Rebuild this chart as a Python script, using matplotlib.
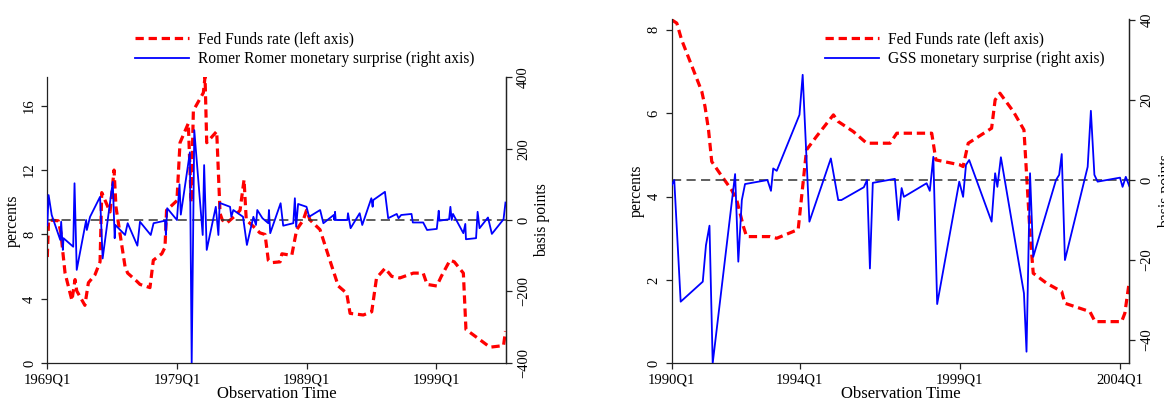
import matplotlib
matplotlib.use("Agg")
import matplotlib.pyplot as plt
import numpy as np

plt.rcParams['font.family'] = ['Liberation Serif', 'DejaVu Serif']

# ---------------- Left panel data (Romer & Romer sample) ----------------
rr_ff_time = [1969.0, 1969.1, 1969.85, 1970.05, 1970.2, 1970.37, 1970.9, 1971.14, 1971.27,
              1971.9, 1972.17, 1972.68, 1973.07, 1973.2, 1973.84, 1974.15, 1974.3, 1974.6,
              1975.0, 1975.2, 1975.9, 1976.15, 1976.92, 1977.18, 1977.83, 1978.08, 1978.2,
              1979.0, 1979.24, 1979.88, 1980.1, 1980.27, 1981.04, 1981.17, 1981.3, 1982.07,
              1982.33, 1982.5, 1982.84, 1983.4, 1983.87, 1984.18, 1984.35, 1984.9, 1985.4,
              1985.8, 1986.05, 1986.3, 1986.96, 1987.1, 1987.86, 1988.24, 1988.75, 1989.0,
              1989.27, 1990.04, 1990.8, 1991.45, 1992.1, 1992.36, 1993.38, 1994.03, 1994.4,
              1995.06, 1995.57, 1996.2, 1997.24, 1998.0, 1998.3, 1999.05, 1999.4, 2000.07,
              2000.4, 2001.1, 2001.3, 2002.4, 2003.15, 2004.2, 2004.35]
rr_ff_rate = [6.6, 8.9, 8.85, 8.1, 6.9, 5.6, 3.9, 5.2, 4.5,
              3.6, 5.0, 5.5, 6.3, 10.6, 9.4, 12.0, 9.7, 8.1,
              6.0, 5.6, 5.1, 4.9, 4.7, 6.4, 6.8, 7.2, 9.5,
              10.1, 13.7, 14.9, 10.0, 15.7, 16.8, 17.8, 13.7, 14.4,
              9.3, 8.9, 8.7, 9.1, 9.5, 11.4, 8.9, 8.5, 8.1,
              8.0, 6.4, 6.25, 6.3, 6.8, 6.7, 8.3, 8.9, 9.5,
              8.9, 8.3, 6.4, 4.8, 4.35, 3.1, 3.0, 3.2, 5.3,
              5.9, 5.4, 5.3, 5.6, 5.6, 4.9, 4.8, 5.4, 6.4,
              6.3, 5.6, 2.1, 1.45, 1.0, 1.1, 2.0]

rr_time = [1969.0, 1969.1, 1969.34, 1970.0, 1970.07, 1970.2, 1970.25, 1971.0, 1971.1,
           1971.27, 1972.0, 1972.05, 1972.3, 1973.07, 1973.27, 1974.05, 1974.2, 1974.25,
           1975.0, 1975.2, 1975.95, 1976.15, 1976.98, 1977.2, 1978.08, 1978.15, 1978.25,
           1979.0, 1979.2, 1979.3, 1980.0, 1980.14, 1980.34, 1980.99, 1981.1, 1981.3,
           1982.0, 1982.2, 1982.3, 1983.1, 1983.2, 1983.35, 1984.1, 1984.4, 1984.9,
           1985.1, 1985.2, 1985.6, 1986.05, 1986.1, 1986.2, 1987.0, 1987.2, 1987.98,
           1988.1, 1988.2, 1988.35, 1989.0, 1989.2, 1990.05, 1990.3, 1991.1, 1991.15,
           1991.2, 1991.25, 1992.15, 1992.2, 1992.4, 1993.1, 1993.3, 1994.0, 1994.1,
           1994.15, 1995.05, 1995.3, 1995.96, 1996.1, 1996.3, 1997.1, 1997.2, 1998.0,
           1998.3, 1999.05, 1999.2, 1999.25, 2000.0, 2000.1, 2000.2, 2000.3, 2001.1,
           2001.25, 2001.3, 2002.08, 2002.2, 2002.35, 2003.0, 2003.3, 2004.2, 2004.35]
rr_shock = [-15, 70, 14, -56, -5, -84, -51, -75, 103,
            -140, 0, -28, 9, 65, -108, 107, -51, -14,
            -42, -9, -72, -5, -42, -9, -2, -42, 33,
            0, 100, 15, 190, -402, 252, -42, 154, -84,
            37, -42, 48, 37, 9, 28, 9, -70, 9,
            -14, 28, 5, -9, 28, -37, 47, -16, -9,
            61, -19, 45, 37, 9, 28, -9, 14, 0,
            23, 0, 0, 19, -23, 19, -14, 61, 37,
            56, 79, 5, 17, 5, 14, 17, -7, -7,
            -28, -25, 26, -2, 2, 37, 0, 17, -37,
            -11, -54, -51, 23, -23, 7, -39, 2, 49]

# ---------------- Right panel data (GSS sample) ----------------
gss_ff_time = [1990.0, 1990.16, 1990.31, 1990.94, 1991.04, 1991.15, 1991.25, 1991.5, 1991.87,
               1992.03, 1992.24, 1992.34, 1993.07, 1993.28, 1993.95, 1994.21, 1994.52, 1995.05,
               1995.2, 1995.67, 1996.09, 1996.82, 1997.03, 1998.12, 1998.25, 1999.0, 1999.1,
               1999.26, 1999.99, 2000.1, 2000.25, 2000.67, 2001.0, 2001.08, 2001.19, 2001.29,
               2001.71, 2002.18, 2002.28, 2003.06, 2003.22, 2004.05, 2004.15, 2004.29]
gss_ff_rate = [8.24, 8.16, 7.76, 6.52, 6.16, 5.6, 4.84, 4.56, 4.16,
               3.92, 3.28, 3.04, 3.04, 3.0, 3.21, 5.12, 5.44, 5.96,
               5.8, 5.56, 5.28, 5.28, 5.52, 5.52, 4.88, 4.76, 4.72,
               5.28, 5.64, 6.32, 6.48, 6.04, 5.6, 4.56, 3.12, 2.16,
               1.92, 1.72, 1.44, 1.24, 1.0, 1.0, 1.2, 1.96]

gss_time = [1990.0, 1990.08, 1990.28, 1990.97, 1991.07, 1991.18, 1991.28, 1991.98, 1992.08,
            1992.19, 1992.29, 1992.99, 1993.1, 1993.17, 1993.28, 1993.99, 1994.09, 1994.3,
            1994.97, 1995.2, 1995.3, 1996.0, 1996.1, 1996.19, 1996.28, 1996.97, 1997.08,
            1997.18, 1997.25, 1997.96, 1998.06, 1998.17, 1998.29, 1998.98, 1999.1, 1999.19,
            1999.29, 1999.99, 2000.1, 2000.17, 2000.28, 2001.0, 2001.08, 2001.19, 2001.29,
            2002.0, 2002.1, 2002.18, 2002.28, 2002.99, 2003.09, 2003.2, 2003.3, 2004.0,
            2004.08, 2004.18, 2004.29]
gss_shock = [-1.3, 0, -30.4, -25.4, -16.3, -11.4, -45.8, 1.5, -20.4,
             -5, -1, 0, -2.7, 2.9, 2.3, 16.3, 26.3, -10.4,
             5.4, -5, -5, -1.8, 0, -22.1, -0.7, 0.3, -10,
             -2, -4.2, -0.8, -2.7, 5.8, -31, -0.4, -4.2, 3.8,
             5, -10.4, 1.7, -1.7, 5.7, -28.3, -42.9, 1.7, -19.2,
             0, 1.3, 6.5, -20, 3.3, 17.3, 1.3, -0.4, 0.6,
             -1.7, 0.8, -1.5]

left_xticks = [1969, 1979, 1989, 1999]
left_xlabels = ['1969Q1', '1979Q1', '1989Q1', '1999Q1']
left_yticks = [0, 4, 8, 12, 16]
left_y2ticks = [-400, -200, 0, 200, 400]
right_xticks = [1990, 1994, 1999, 2004]
right_xlabels = ['1990Q1', '1994Q1', '1999Q1', '2004Q1']
right_yticks = [0, 2, 4, 6, 8]
right_y2ticks = [-40, -20, 0, 20, 40]

W, H = 1164, 400
fig = plt.figure(figsize=(W / 100, H / 100), dpi=100)

TICK_FS = 10.5
LAB_FS = 11.3
XLAB_FS = 12
LEG_FS = 11.2
RED_LW = 2.3
BLUE_LW = 1.3
SP_COL = '#222222'


def px_axes(l, r, t, b):
    return [l / W, 1 - b / H, (r - l) / W, (b - t) / H]


def style(ax, ax2):
    for a in (ax, ax2):
        a.spines['top'].set_visible(False)
        for s in a.spines.values():
            s.set_color(SP_COL)
            s.set_linewidth(0.9)
    ax2.spines['left'].set_visible(False)
    ax2.spines['bottom'].set_visible(False)
    ax.tick_params(axis='both', direction='out', length=4, width=0.9, color=SP_COL,
                   labelsize=TICK_FS)
    ax.tick_params(axis='x', pad=3)
    ax.tick_params(axis='y', labelrotation=90, pad=4)
    ax2.tick_params(axis='y', direction='out', length=4, width=0.9, color=SP_COL,
                    labelsize=TICK_FS, labelrotation=90, pad=4)
    for lab in ax.get_yticklabels():
        lab.set_va('center')
    for lab in ax2.get_yticklabels():
        lab.set_va('center')


def panel(rect, ff_t, ff_v, s_t, s_v, xlim, ylim, y2lim, xt, xl, yt, y2t, label2, leg_xy):
    ax = fig.add_axes(rect)
    ax2 = ax.twinx()
    l1, = ax.plot(ff_t, ff_v, color='#ff0000', lw=RED_LW, ls=(0, (2.6, 1.5)),
                  label='Fed Funds rate (left axis)')
    ax2.axhline(0, color='#333333', lw=1.1, ls=(0, (6, 3.5)))
    l2, = ax2.plot(s_t, s_v, color='#0000ff', lw=BLUE_LW, label=label2)
    ax.set_xlim(*xlim)
    ax.set_ylim(*ylim)
    ax2.set_ylim(*y2lim)
    ax.set_xticks(xt)
    ax.set_xticklabels(xl)
    ax.set_yticks(yt)
    ax2.set_yticks(y2t)
    ax.set_ylabel('percents', fontsize=LAB_FS, labelpad=2)
    ax2.set_ylabel('basis points', fontsize=LAB_FS, rotation=90, labelpad=3)
    ax.set_xlabel('Observation Time', fontsize=XLAB_FS, labelpad=0)
    style(ax, ax2)
    fig.legend([l1, l2], [l1.get_label(), l2.get_label()], loc='upper left',
               bbox_to_anchor=(leg_xy[0] / W, 1 - leg_xy[1] / H), bbox_transform=fig.transFigure,
               frameon=False, borderpad=0, borderaxespad=0, fontsize=LEG_FS,
               handlelength=3.45, handletextpad=0.6, labelspacing=0.28)
    return ax, ax2


panel(px_axes(47.3, 506, 77.3, 363.3), rr_ff_time, rr_ff_rate, rr_time, rr_shock,
      (1969.0, 2004.39), (0, 17.76), (-402, 400.3), left_xticks, left_xlabels,
      left_yticks, left_y2ticks, 'Romer Romer monetary surprise (right axis)', (135, 31))

panel(px_axes(671.7, 1129.3, 19, 363.3), gss_ff_time, gss_ff_rate, gss_time, gss_shock,
      (1990.0, 2004.29), (0, 8.26), (-45.8, 40.25), right_xticks, right_xlabels,
      right_yticks, right_y2ticks, 'GSS monetary surprise (right axis)', (825, 31))

fig.savefig('out.png', dpi=100)
